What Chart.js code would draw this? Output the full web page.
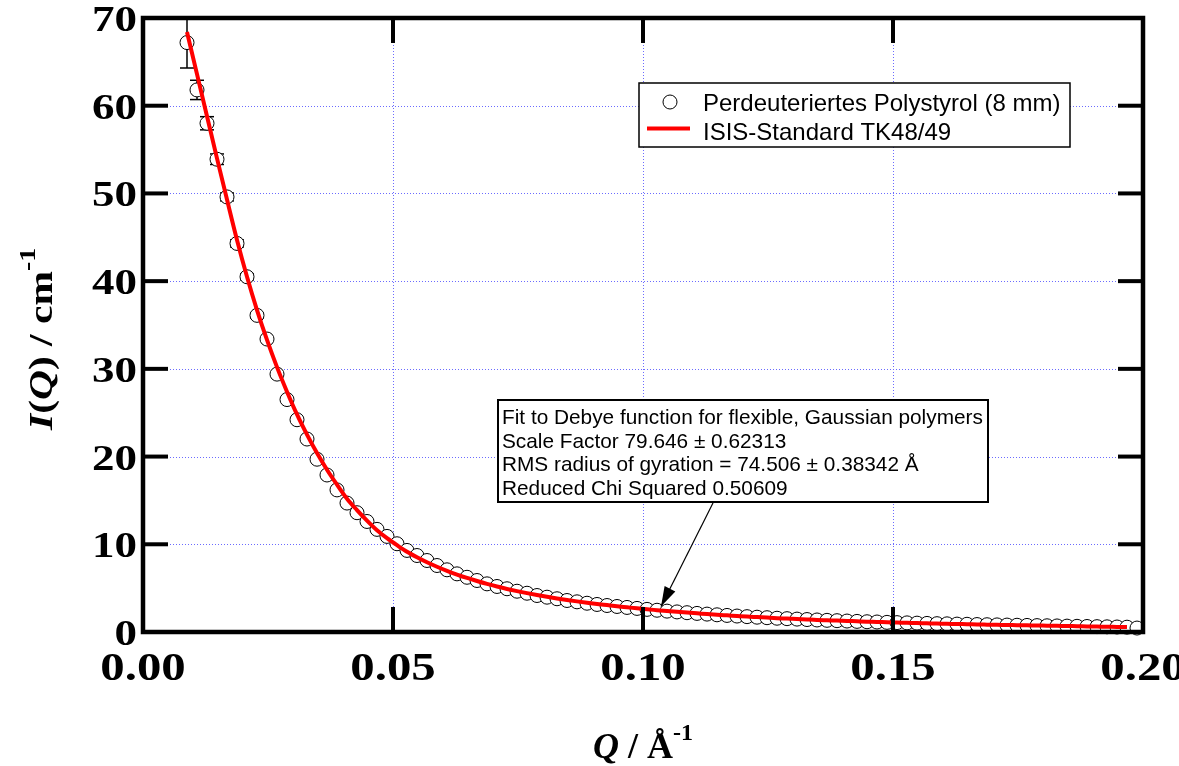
<!DOCTYPE html>
<html>
<head>
<meta charset="utf-8">
<title>Perdeuteriertes Polystyrol – I(Q)</title>
<script src="https://cdn.jsdelivr.net/npm/chart.js@4/dist/chart.umd.min.js"></script>
<style>
  html, body { margin: 0; padding: 0; background: #fff; }
  canvas { display: block; }
</style>
</head>
<body>
<canvas id="sans" width="1179" height="766"></canvas>
<script>
// Q in 1/Å, one value per measured point
const qData = [
  0.0088, 0.0108, 0.0128, 0.0148, 0.0168, 0.0188, 0.0208, 0.0228, 0.0248, 0.0268,
  0.0288, 0.0308, 0.0328, 0.0348, 0.0368, 0.0388, 0.0408, 0.0428, 0.0448, 0.0468,
  0.0488, 0.0508, 0.0528, 0.0548, 0.0568, 0.0588, 0.0608, 0.0628, 0.0648, 0.0668,
  0.0688, 0.0708, 0.0728, 0.0748, 0.0768, 0.0788, 0.0808, 0.0828, 0.0848, 0.0868,
  0.0888, 0.0908, 0.0928, 0.0948, 0.0968, 0.0988, 0.1008, 0.1028, 0.1048, 0.1068,
  0.1088, 0.1108, 0.1128, 0.1148, 0.1168, 0.1188, 0.1208, 0.1228, 0.1248, 0.1268,
  0.1288, 0.1308, 0.1328, 0.1348, 0.1368, 0.1388, 0.1408, 0.1428, 0.1448, 0.1468,
  0.1488, 0.1508, 0.1528, 0.1548, 0.1568, 0.1588, 0.1608, 0.1628, 0.1648, 0.1668,
  0.1688, 0.1708, 0.1728, 0.1748, 0.1768, 0.1788, 0.1808, 0.1828, 0.1848, 0.1868,
  0.1888, 0.1908, 0.1928, 0.1948, 0.1968, 0.1988
];

// measured intensity I(Q) in 1/cm
const iData = [
  67.2, 61.8, 58.0, 53.9, 49.6, 44.3, 40.5, 36.1, 33.4, 29.4,
  26.5, 24.2, 22.0, 19.7, 17.9, 16.2, 14.7, 13.6, 12.6, 11.7,
  10.9, 10.06, 9.3, 8.72, 8.15, 7.58, 7.09, 6.63, 6.24, 5.87,
  5.49, 5.19, 4.93, 4.65, 4.42, 4.16, 3.97, 3.79, 3.59, 3.44,
  3.28, 3.14, 3.02, 2.91, 2.80, 2.69, 2.58, 2.48, 2.38, 2.29,
  2.20, 2.12, 2.04, 1.96, 1.89, 1.82, 1.75, 1.69, 1.63, 1.57,
  1.52, 1.47, 1.42, 1.37, 1.33, 1.29, 1.25, 1.21, 1.17, 1.14,
  1.10, 1.07, 1.04, 1.01, 0.98, 0.95, 0.93, 0.90, 0.88, 0.85,
  0.83, 0.81, 0.79, 0.77, 0.75, 0.73, 0.71, 0.69, 0.67, 0.65,
  0.63, 0.61, 0.59, 0.57, 0.55, 0.45
];

// error bars, only the first points stick out of the symbols
const iErr = [2.9, 1.1, 0.75, 0.6, 0.45, 0.4, 0.35, 0.3];

// fitted curve (same Q grid, stops one point early)
const iFit = [
  68.4, 63.6, 58.8, 54.0, 49.3, 44.7, 40.5, 36.7, 33.3, 30.2,
  27.4, 24.8, 22.5, 20.4, 18.5, 16.8, 15.2, 13.9, 12.7, 11.6,
  10.7, 9.9, 9.15, 8.52, 7.95, 7.44, 6.97, 6.55, 6.16, 5.81,
  5.48, 5.18, 4.91, 4.66, 4.43, 4.21, 4.01, 3.82, 3.65, 3.49,
  3.34, 3.20, 3.07, 2.94, 2.82, 2.70, 2.59, 2.49, 2.39, 2.30,
  2.21, 2.13, 2.05, 1.97, 1.90, 1.83, 1.76, 1.70, 1.64, 1.58,
  1.53, 1.48, 1.43, 1.38, 1.34, 1.30, 1.26, 1.22, 1.18, 1.15,
  1.11, 1.08, 1.05, 1.02, 0.99, 0.96, 0.94, 0.91, 0.89, 0.86,
  0.84, 0.82, 0.80, 0.78, 0.76, 0.74, 0.72, 0.70, 0.68, 0.66,
  0.64, 0.62, 0.60, 0.58, 0.56
];

const xTicks = [0, 0.05, 0.10, 0.15, 0.20];
const xTickLabels = ['0.00', '0.05', '0.10', '0.15', '0.20'];
const yTicks = [0, 10, 20, 30, 40, 50, 60, 70];
const yTickLabels = ['0', '10', '20', '30', '40', '50', '60', '70'];

const dataLabel = 'Perdeuteriertes Polystyrol (8 mm)';
const fitLabel = 'ISIS-Standard TK48/49';

const noteLines = [
  'Fit to Debye function for flexible, Gaussian polymers',
  'Scale Factor 79.646 \u00b1 0.62313',
  'RMS radius of gyration = 74.506 \u00b1 0.38342 \u00c5',
  'Reduced Chi Squared 0.50609'
];

const SERIF = '"Liberation Serif", "Times New Roman", serif';
const SANS = '"Liberation Sans", Arial, sans-serif';

function line(ctx, x1, y1, x2, y2) {
  ctx.beginPath();
  ctx.moveTo(x1, y1);
  ctx.lineTo(x2, y2);
  ctx.stroke();
}

// the original uses a wide bold serif, so stretch Times a bit horizontally
function wideText(ctx, text, x, y, sx, align) {
  ctx.save();
  ctx.translate(x, y);
  ctx.scale(sx, 1);
  ctx.textAlign = align;
  ctx.fillText(text, 0, 0);
  ctx.restore();
}

// draw text made of runs with different fonts
function runsWidth(ctx, runs) {
  let w = 0;
  runs.forEach(r => { ctx.font = r.font; w += ctx.measureText(r.text).width; });
  return w;
}
function drawRuns(ctx, runs, x, y) {
  runs.forEach(r => {
    ctx.font = r.font;
    ctx.fillText(r.text, x, y + (r.dy || 0));
    x += ctx.measureText(r.text).width;
  });
}

/**
 * Grid + error bars go under the symbols, frame and text on top
 */
const overlay = {
  id: 'overlay',
  beforeDatasetsDraw(chart) {
    const { ctx, chartArea: a, scales: { x, y } } = chart;
    ctx.save();

    // dotted blue grid
    ctx.strokeStyle = '#6b6bff';
    ctx.lineWidth = 1;
    ctx.setLineDash([1, 2]);
    xTicks.slice(1, -1).forEach(v => {
      const px = Math.round(x.getPixelForValue(v)) + 0.5;
      line(ctx, px, a.top, px, a.bottom);
    });
    yTicks.slice(1, -1).forEach(v => {
      const py = Math.round(y.getPixelForValue(v)) + 0.5;
      line(ctx, a.left, py, a.right, py);
    });
    ctx.setLineDash([]);

    // error bars
    ctx.strokeStyle = '#000';
    ctx.lineWidth = 1.5;
    iErr.forEach((e, i) => {
      const px = x.getPixelForValue(qData[i]);
      const top = y.getPixelForValue(iData[i] + e);
      const bot = y.getPixelForValue(iData[i] - e);
      line(ctx, px, top, px, bot);
      line(ctx, px - 7, top, px + 7, top);
      line(ctx, px - 7, bot, px + 7, bot);
    });
    ctx.restore();
  },

  afterDatasetsDraw(chart) {
    const { ctx, chartArea: a, scales: { x, y } } = chart;
    ctx.save();

    // heavy frame with inward ticks on all sides
    ctx.strokeStyle = '#000';
    ctx.lineWidth = 4.5;
    ctx.strokeRect(a.left, a.top, a.right - a.left, a.bottom - a.top);
    ctx.lineWidth = 4;
    const tl = 25;
    xTicks.slice(1, -1).forEach(v => {
      const px = x.getPixelForValue(v);
      line(ctx, px, a.bottom, px, a.bottom - tl);
      line(ctx, px, a.top, px, a.top + tl);
    });
    yTicks.slice(1, -1).forEach(v => {
      const py = y.getPixelForValue(v);
      line(ctx, a.left, py, a.left + tl, py);
      line(ctx, a.right, py, a.right - tl, py);
    });

    // tick labels
    ctx.fillStyle = '#000';
    ctx.textBaseline = 'alphabetic';
    ctx.font = 'bold 40px ' + SERIF;
    xTicks.forEach((v, i) => {
      wideText(ctx, xTickLabels[i], x.getPixelForValue(v), 680, 1.22, 'center');
    });
    ctx.font = 'bold 36px ' + SERIF;
    yTicks.forEach((v, i) => {
      wideText(ctx, yTickLabels[i], 137, y.getPixelForValue(v) + 13, 1.25, 'right');
    });

    // axis titles
    ctx.textAlign = 'left';
    const xRuns = [
      { text: 'Q', font: 'italic bold 36px ' + SERIF },
      { text: ' / \u00c5', font: 'bold 36px ' + SERIF },
      { text: '-1', font: 'bold 24px ' + SERIF, dy: -18 }
    ];
    const xw = runsWidth(ctx, xRuns);
    drawRuns(ctx, xRuns, (a.left + a.right) / 2 - xw / 2, 758);

    const yRuns = [
      { text: 'I', font: 'italic bold 34px ' + SERIF },
      { text: '(', font: 'bold 34px ' + SERIF },
      { text: 'Q', font: 'italic bold 34px ' + SERIF },
      { text: ') / cm', font: 'bold 34px ' + SERIF },
      { text: '-1', font: 'bold 23px ' + SERIF, dy: -17 }
    ];
    ctx.save();
    ctx.translate(52, 430);
    ctx.rotate(-Math.PI / 2);
    ctx.scale(1.22, 1);
    drawRuns(ctx, yRuns, 0, 0);
    ctx.restore();

    // legend box
    ctx.fillStyle = '#fff';
    ctx.fillRect(639, 83, 431, 64);
    ctx.lineWidth = 1.5;
    ctx.strokeStyle = '#000';
    ctx.strokeRect(639, 83, 431, 64);
    ctx.beginPath();
    ctx.arc(670, 102, 7, 0, Math.PI * 2);
    ctx.lineWidth = 1;
    ctx.stroke();
    ctx.strokeStyle = '#ff0000';
    ctx.lineWidth = 4;
    line(ctx, 647, 128.5, 690, 128.5);
    ctx.fillStyle = '#000';
    ctx.font = '24px ' + SANS;
    ctx.fillText(dataLabel, 703, 110.5);
    ctx.fillText(fitLabel, 703, 139.5);

    // fit result box
    ctx.fillStyle = '#fff';
    ctx.fillRect(498, 400, 490, 102);
    ctx.strokeStyle = '#000';
    ctx.lineWidth = 2;
    ctx.strokeRect(498, 400, 490, 102);
    ctx.fillStyle = '#000';
    ctx.font = '20.8px ' + SANS;
    noteLines.forEach((t, i) => ctx.fillText(t, 502, 424 + i * 23.6));

    // arrow pointing at the curve
    const ax0 = 713, ay0 = 503;
    const ax1 = x.getPixelForValue(0.1036), ay1 = y.getPixelForValue(2.9);
    ctx.lineWidth = 1.2;
    line(ctx, ax0, ay0, ax1, ay1);
    const ang = Math.atan2(ay1 - ay0, ax1 - ax0);
    const hl = 20, hw = 6;
    ctx.beginPath();
    ctx.moveTo(ax1, ay1);
    ctx.lineTo(ax1 - hl * Math.cos(ang) + hw * Math.sin(ang), ay1 - hl * Math.sin(ang) - hw * Math.cos(ang));
    ctx.lineTo(ax1 - hl * Math.cos(ang) - hw * Math.sin(ang), ay1 - hl * Math.sin(ang) + hw * Math.cos(ang));
    ctx.closePath();
    ctx.fill();

    ctx.restore();
  }
};

const dataPoints = qData.map((q, i) => ({ x: q, y: iData[i] }));
const fitPoints = iFit.map((v, i) => ({ x: qData[i], y: v }));

new Chart(document.getElementById('sans'), {
  type: 'scatter',
  data: {
    datasets: [
      {
        label: fitLabel,
        data: fitPoints,
        showLine: true,
        borderColor: '#ff0000',
        borderWidth: 4,
        pointRadius: 0,
        cubicInterpolationMode: 'monotone',
        order: 0,
        clip: false
      },
      {
        label: dataLabel,
        data: dataPoints,
        showLine: false,
        pointRadius: 7,
        pointBorderWidth: 1,
        pointBorderColor: '#000',
        pointBackgroundColor: '#fff',
        order: 1,
        clip: false
      }
    ]
  },
  options: {
    responsive: false,
    animation: false,
    layout: { padding: { left: 143, right: 36, top: 18, bottom: 134 } },
    scales: {
      x: { type: 'linear', min: 0, max: 0.2, display: false },
      y: { type: 'linear', min: 0, max: 70, display: false }
    },
    plugins: {
      legend: { display: false },
      tooltip: { enabled: false }
    }
  },
  plugins: [overlay]
});
</script>
</body>
</html>
